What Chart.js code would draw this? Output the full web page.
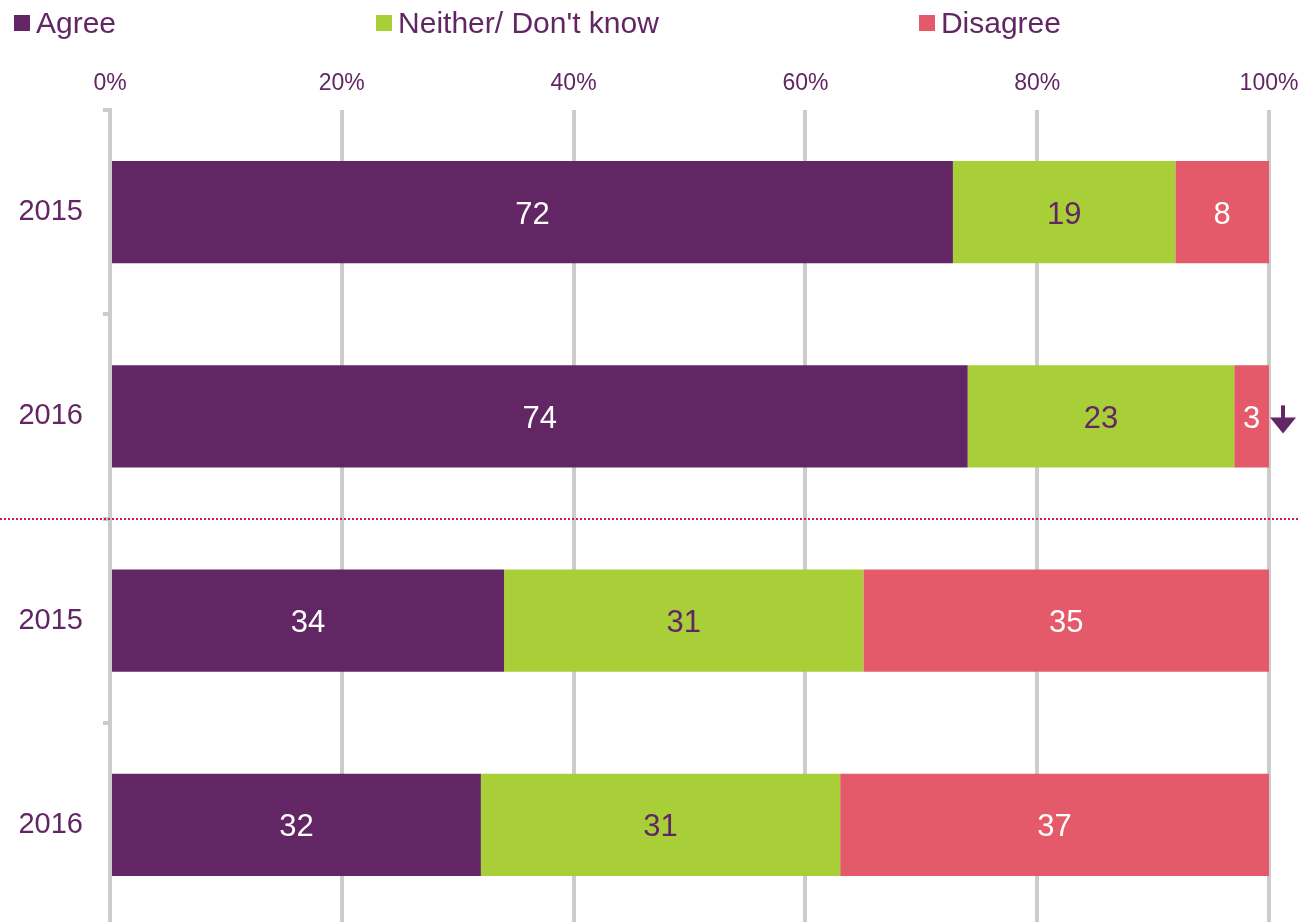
<!DOCTYPE html>
<html>
<head>
<meta charset="utf-8">
<script src="https://cdn.jsdelivr.net/npm/chart.js@4"></script>
<style>
    html, body { margin: 0; padding: 0; background: #fff; overflow: hidden; }
    #wrap { position: relative; width: 1299px; height: 927px; }
    #legend { position: absolute; left: 14px; top: 5px; display: flex; gap: 260px; z-index: 2;
        font-family: 'Liberation Sans', Arial, sans-serif; font-size: 30px; color: #612663; }
    #legend .item { display: flex; align-items: center; line-height: 36px; }
    #legend .box { width: 16px; height: 16px; margin-right: 6px; }
</style>
</head>
<body>
<div id="wrap">
    <div id="legend"></div>
    <canvas id="chart" width="1299" height="927"></canvas>
</div>
<script>
const categories = ['2015', '2016', '2015', '2016'];
const agree = [72, 74, 34, 32];
const neither = [19, 23, 31, 31];
const disagree = [8, 3, 35, 37];
const xTicks = [0, 20, 40, 60, 80, 100];
// significance markers shown after the bar
const changeMarks = [null, 'down', null, null];
// dotted separator drawn after this category index
const separatorAfter = 1;

const purple = '#612663';
const series = [
    { label: 'Agree', values: agree, color: '#612663', text: '#ffffff' },
    { label: "Neither/ Don't know", values: neither, color: '#a8ce38', text: '#612663' },
    { label: 'Disagree', values: disagree, color: '#e55a6a', text: '#ffffff' }
];

const totals = categories.map((c, i) => agree[i] + neither[i] + disagree[i]);

// legend
const legendEl = document.getElementById('legend');
series.forEach(s => {
    const item = document.createElement('div');
    item.className = 'item';
    item.innerHTML = `<span class="box" style="background:${s.color}"></span><span>${s.label}</span>`;
    legendEl.appendChild(item);
});

const valueLabels = {
    id: 'valueLabels',
    afterDatasetsDraw(chart) {
        const ctx = chart.ctx;
        ctx.save();
        ctx.font = '31px "Liberation Sans", Arial, sans-serif';
        ctx.textAlign = 'center';
        ctx.textBaseline = 'middle';
        chart.data.datasets.forEach((ds, di) => {
            const meta = chart.getDatasetMeta(di);
            meta.data.forEach((bar, i) => {
                ctx.fillStyle = series[di].text;
                ctx.fillText(String(ds.raw[i]), (bar.x + bar.base) / 2, bar.y + 3);
            });
        });

        // change arrows
        const xs = chart.scales.x;
        const meta0 = chart.getDatasetMeta(0);
        changeMarks.forEach((m, i) => {
            if (!m) return;
            const x = xs.getPixelForValue(100) + 14;
            const y = meta0.data[i].y;
            ctx.fillStyle = purple;
            ctx.fillRect(x - 2, y - 11, 4, 14);
            ctx.beginPath();
            if (m === 'down') {
                ctx.moveTo(x - 13, y + 1);
                ctx.lineTo(x + 13, y + 1);
                ctx.lineTo(x, y + 17);
            }
            ctx.closePath();
            ctx.fill();
        });

        // dotted separator
        const ys = chart.scales.y;
        const yy = Math.round(ys.getPixelForValue(separatorAfter + 0.5));
        ctx.strokeStyle = '#d4145a';
        ctx.lineWidth = 2;
        ctx.setLineDash([2, 2]);
        ctx.beginPath();
        ctx.moveTo(0, yy);
        ctx.lineTo(chart.width, yy);
        ctx.stroke();
        ctx.restore();
    }
};

new Chart(document.getElementById('chart'), {
    type: 'bar',
    data: {
        labels: categories,
        datasets: series.map(s => ({
            label: s.label,
            data: s.values.map((v, i) => v / totals[i] * 100),
            raw: s.values,
            backgroundColor: s.color,
            borderWidth: 0,
            categoryPercentage: 1,
            barPercentage: 0.5
        }))
    },
    options: {
        indexAxis: 'y',
        responsive: false,
        animation: false,
        layout: { padding: { left: 17, right: 30, top: 62, bottom: 0 } },
        plugins: {
            legend: { display: false },
            tooltip: { enabled: false }
        },
        scales: {
            x: {
                position: 'top',
                stacked: true,
                min: 0,
                max: 100,
                afterBuildTicks: axis => { axis.ticks = xTicks.map(v => ({ value: v })); },
                afterFit: axis => {
                    axis.height = 48;
                    axis.paddingLeft = 0;
                    axis.paddingRight = 0;
                },
                ticks: {
                    callback: v => v + '%',
                    color: purple,
                    padding: 13,
                    maxRotation: 0,
                    font: { family: "'Liberation Sans', Arial, sans-serif", size: 23 }
                },
                grid: { color: '#cccccc', lineWidth: 4, drawTicks: false },
                border: { display: false }
            },
            y: {
                stacked: true,
                afterFit: axis => {
                    axis.width = 93;
                    axis.paddingTop = 0;
                    axis.paddingBottom = 0;
                },
                ticks: {
                    color: purple,
                    padding: 20,
                    font: { family: "'Liberation Sans', Arial, sans-serif", size: 29 }
                },
                grid: { offset: true, drawOnChartArea: false, drawTicks: true, tickLength: 7, color: '#cccccc', lineWidth: 4 },
                border: { display: true, color: '#cccccc', width: 4 }
            }
        }
    },
    plugins: [valueLabels]
});
</script>
</body>
</html>
